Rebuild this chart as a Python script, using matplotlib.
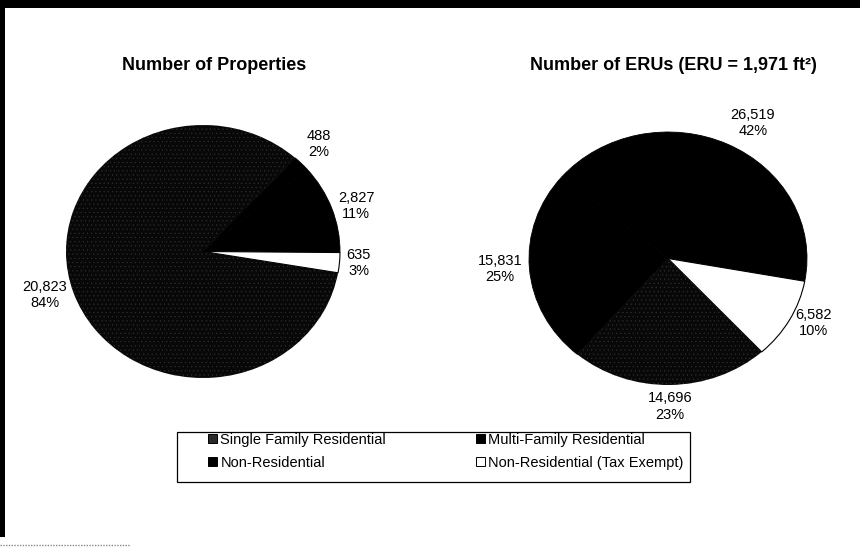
import matplotlib
matplotlib.use("Agg")
import matplotlib.pyplot as plt
from matplotlib.patches import Patch, Rectangle
from matplotlib.lines import Line2D
import numpy as np

plt.rcParams["font.family"] = ["Liberation Sans", "DejaVu Sans"]
plt.rcParams["hatch.linewidth"] = 0.3

# categories and values
categories = [
    "Single Family Residential",
    "Multi-Family Residential",
    "Non-Residential",
    "Non-Residential (Tax Exempt)",
]
properties = [20823, 488, 2827, 635]
erus = [14696, 15831, 26519, 6582]
titles = ["Number of Properties", "Number of ERUs (ERU = 1,971 ft\u00b2)"]

face = ["#080808", "#000000", "#000000", "#ffffff"]

W, H = 860, 550
fig = plt.figure(figsize=(W / 100, H / 100), dpi=100)
fig.patch.set_facecolor("white")


def px_box(x0, y0, x1, y1):
    # pixel box (top-left origin) -> figure fraction rect
    return [x0 / W, 1 - y1 / H, (x1 - x0) / W, (y1 - y0) / H]


def draw_pie(box, values, start, title, title_x):
    ax = fig.add_axes(box)
    wedges, _ = ax.pie(values, colors=face, startangle=start, counterclock=False,
                       radius=1, wedgeprops=dict(linewidth=0.6))
    for w, f in zip(wedges, face):
        w.set_edgecolor("black")
    # speckled single family slice
    wedges[0].set_hatch("....")
    wedges[0].set_edgecolor("#333333")
    wedges[0].set_linewidth(0)
    wedges[3].set_linewidth(0.8)
    ax.set_aspect("auto")
    ax.set_xlim(-1, 1)
    ax.set_ylim(-1, 1)
    ax.axis("off")

    total = sum(values)
    for w, v in zip(wedges, values):
        ang = np.deg2rad((w.theta1 + w.theta2) / 2)
        c, s = np.cos(ang), np.sin(ang)
        x, y = 1.05 * c, 1.05 * s
        if abs(c) < 0.2:
            ha = "center"
        else:
            ha = "left" if c > 0 else "right"
        if abs(s) < 0.55:
            va = "center"
        else:
            va = "bottom" if s > 0 else "top"
        pct = round(100 * v / total)
        ax.text(x, y, f"{v:,}\n{pct}%", ha=ha, va=va, multialignment="center",
                fontsize=10.5, linespacing=1.2, clip_on=False)

    fig.text(title_x / W, 1 - 66 / H, title, ha="center", va="center",
             fontsize=13, fontweight="bold")


draw_pie(px_box(66, 125, 340, 378), properties, -9.7, titles[0], 214)
draw_pie(px_box(529, 132, 807, 385), erus, -47.6, titles[1], 673)

# legend: box plus two columns
fig.patches.append(Rectangle((177 / W, 1 - 482 / H), (690 - 177) / W, 50 / H,
                             transform=fig.transFigure, facecolor="white",
                             edgecolor="black", linewidth=0.9))
handles = [Patch(facecolor=f, edgecolor="black", linewidth=0.7) for f in face]
handles[0] = Patch(facecolor="#2a2a2a", edgecolor="black", linewidth=0.7)
leg_kw = dict(frameon=False, fontsize=10.5, handlelength=0.6, handleheight=0.6,
              handletextpad=0.25, labelspacing=0.6, borderpad=0, borderaxespad=0,
              loc="upper left")
fig.legend([handles[0], handles[2]], [categories[0], categories[2]],
           bbox_to_anchor=(208 / W, 1 - 433 / H), **leg_kw)
fig.legend([handles[1], handles[3]], [categories[1], categories[3]],
           bbox_to_anchor=(476 / W, 1 - 433 / H), **leg_kw)

# scan border remnants
fig.patches.append(Rectangle((0, 1 - 8 / H), 1, 8 / H, transform=fig.transFigure,
                             facecolor="black", edgecolor="none"))
fig.patches.append(Rectangle((0, 1 - 537 / H), 5 / W, 537 / H, transform=fig.transFigure,
                             facecolor="black", edgecolor="none"))
fig.lines.append(Line2D([0, 130 / W], [1 - 545 / H, 1 - 545 / H], transform=fig.transFigure,
                        color="#888888", linewidth=1, linestyle=(0, (1, 1))))

fig.savefig("out.png", dpi=100, facecolor="white")
